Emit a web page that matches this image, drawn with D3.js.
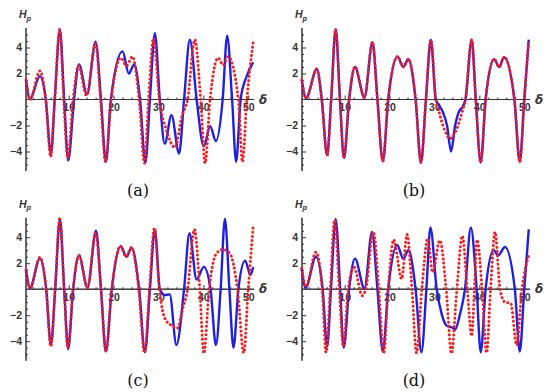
<!DOCTYPE html>
<html>
<head>
<meta charset="utf-8">
<script src="https://cdn.jsdelivr.net/npm/d3@7"></script>
<style>
  html, body { margin: 0; padding: 0; background: #fff; }
  svg { display: block; }
</style>
</head>
<body>
<svg id="chart" width="550" height="392"></svg>
<script>
// ---------- data ----------
const xMajorTicks = [10, 20, 30, 40, 50];
const xMinorTicks = [2, 4, 6, 8, 12, 14, 16, 18, 22, 24, 26, 28, 32, 34, 36, 38, 42, 44, 46, 48];
const yMajorTicks = [-4, -2, 2, 4];
const yMinorTicks = [-5, -4.5, -3.5, -3, -2.5, -1.5, -1, -0.5, 0.5, 1, 1.5, 2.5, 3, 3.5, 4.5, 5];
const panelLabels = ["(a)", "(b)", "(c)", "(d)"];

const blueA = [[0.5,1.5],[1.4,0.05],[3.6,1.8],[4.9,0],[6.05,-4.2],[6.9,0],[8.05,5.35],[9.0,0],[9.9,-4.7],[11.2,0],[12.3,2.7],[14.1,0.4],[16.0,4.45],[17.2,0],[18.3,-4.8],[19.4,0],[22.0,3.7],[23.4,2.0],[24.6,2.7],[25.9,0],[27.1,-4.85],[28.1,0],[29.2,5.1],[30.3,0],[31.4,-3.4],[32.9,-1.2],[34.6,-4.15],[35.7,0],[37.0,4.6],[38.5,0],[40.1,-3.6],[41.5,-2.05],[42.8,-3.2],[44.3,0],[45.3,4.9],[46.4,0],[47.3,-4.8],[48.3,0],[49.6,1.75],[51.1,2.85]];
const redA = [[0.5,1.5],[1.4,0.0],[3.6,2.2],[4.9,0],[6.0,-4.4],[6.9,0],[8.0,5.4],[8.9,0],[9.8,-4.5],[11.0,0],[12.2,2.6],[14.0,0.3],[16.0,4.3],[17.1,0],[18.2,-4.8],[19.5,0],[21.6,3.2],[22.9,2.6],[24.2,3.3],[25.7,0],[26.9,-4.9],[27.8,0],[28.9,4.7],[30.2,0],[31.8,-2.4],[33.7,-3.7],[35.2,-1.3],[36.5,0],[38.1,4.6],[39.4,0],[40.4,-4.9],[41.5,0],[43.3,3.2],[44.4,2.65],[45.5,3.3],[47.8,0],[48.7,-4.8],[49.7,0],[51.1,4.4]];

const blueB = [[0.45,1.5],[1.4,0.1],[3.8,2.35],[4.9,0],[6.1,-4.3],[7.0,0],[8.0,5.4],[8.95,0],[9.85,-4.5],[11.0,0],[12.3,2.5],[14.4,0.15],[16.2,4.4],[17.3,0],[18.5,-4.75],[19.7,0],[21.8,3.3],[23.05,2.5],[24.2,3.1],[25.8,0],[27.0,-4.85],[28.1,0],[29.2,4.6],[30.3,0],[30.9,-0.4],[31.8,-0.9],[32.8,-2.0],[33.7,-4.0],[34.6,-2.0],[35.5,-0.9],[36.3,-0.55],[36.9,0],[38.3,4.6],[39.2,0],[40.3,-4.85],[41.4,0],[43.3,3.1],[44.4,2.5],[45.5,3.25],[47.8,0],[49.0,-4.8],[50.0,0],[51.0,4.6]];
const redB = [[0.45,1.5],[1.4,0.1],[3.8,2.35],[4.9,0],[6.1,-4.3],[7.0,0],[8.0,5.4],[8.95,0],[9.85,-4.5],[11.0,0],[12.3,2.5],[14.4,0.15],[16.2,4.4],[17.3,0],[18.5,-4.75],[19.7,0],[21.8,3.3],[23.05,2.5],[24.2,3.1],[25.8,0],[27.0,-4.85],[28.1,0],[29.2,4.6],[30.3,0],[30.9,-0.8],[32.2,-2.3],[33.5,-3.0],[34.9,-2.3],[36.3,-0.8],[36.9,0],[38.3,4.6],[39.2,0],[40.3,-4.85],[41.4,0],[43.3,3.1],[44.4,2.5],[45.5,3.25],[47.8,0],[49.0,-4.8],[50.0,0],[51.0,4.6]];

const blueC = [[0.5,1.5],[1.4,0.1],[3.6,2.35],[5.0,0],[6.06,-4.3],[7.0,0],[8.06,5.4],[9.0,0],[9.9,-4.6],[11.0,0],[12.3,2.6],[14.2,0.1],[16.1,4.5],[17.2,0],[18.3,-4.8],[19.6,0],[21.6,3.3],[22.9,2.5],[24.0,3.2],[25.7,0],[27.0,-4.85],[28.1,0],[29.2,4.6],[30.3,0],[31.4,-0.45],[32.5,-0.4],[34.0,-4.3],[35.7,0],[36.9,4.3],[38.5,0.75],[40.1,1.72],[41.6,0],[42.8,-4.3],[43.85,0],[44.8,5.4],[45.8,0],[46.7,-4.5],[47.8,0],[49.3,2.2],[50.5,1.1],[51.1,1.7]];
const redC = [[0.5,1.5],[1.4,0.1],[3.6,2.45],[5.0,0],[6.0,-4.4],[7.0,0],[8.0,5.4],[9.0,0],[9.8,-4.5],[11.0,0],[12.3,2.6],[14.2,0.1],[16.0,4.3],[17.2,0],[18.3,-4.8],[19.6,0],[21.5,3.3],[22.8,2.5],[24.0,3.2],[25.6,0],[26.9,-4.9],[28.0,0],[29.1,4.7],[30.2,0],[31.5,-2.3],[33.0,-2.8],[34.2,-3.0],[35.4,-1.5],[36.5,0],[38.0,4.6],[39.2,0],[40.1,-4.95],[41.3,0],[42.9,2.75],[44.4,3.05],[45.9,2.75],[47.6,0],[49.0,-4.9],[50.0,0],[51.1,4.85]];

const blueD = [[0.42,1.6],[1.3,0.1],[3.6,2.5],[5.1,0],[6.1,-4.4],[6.95,0],[8.0,5.4],[9.0,0],[9.8,-4.5],[11.0,0],[12.3,2.35],[14.4,0.05],[16.1,4.4],[17.3,0],[18.5,-4.8],[19.7,0],[21.7,3.4],[23.05,2.35],[24.2,3.0],[25.8,0],[27.1,-4.85],[28.2,0],[29.1,4.75],[30.5,0],[31.6,-1.9],[32.7,-2.8],[33.9,-2.95],[34.6,-3.1],[35.7,-1.9],[36.8,0],[38.1,4.75],[39.4,0],[40.3,-4.85],[41.4,0],[43.2,3.0],[44.2,2.6],[45.7,3.25],[47.9,0],[49.0,-4.8],[50.0,0],[51.0,4.6]];
const redD = [[0.42,1.6],[1.4,0.2],[3.6,2.85],[5.0,0],[5.85,-4.85],[6.8,0],[7.75,5.3],[8.8,0],[9.7,-4.4],[10.8,0],[12.1,1.7],[13.9,-0.5],[14.7,0],[16.4,4.4],[17.6,0],[18.7,-4.95],[19.7,0],[20.9,3.8],[22.7,0.8],[23.9,4.2],[25.0,0],[26.0,-4.9],[27.2,0],[28.5,3.9],[29.6,1.3],[31.2,3.75],[32.6,0],[33.8,-4.95],[35.0,0],[36.2,4.1],[37.3,0],[38.3,-3.6],[38.9,0],[39.5,3.8],[40.6,0],[41.6,-4.9],[42.5,0],[43.5,4.4],[44.6,0],[45.7,-1.0],[47.0,-1.1],[48.3,-4.3],[49.5,0],[51.0,2.6]];

const panels = [
  { blue: blueA, red: redA, dx: 0,   dy: 0 },
  { blue: blueB, red: redB, dx: 276, dy: 0 },
  { blue: blueC, red: redC, dx: 0,   dy: 189.7 },
  { blue: blueD, red: redD, dx: 276, dy: 189.7 }
];

// ---------- drawing ----------
const svg = d3.select("#chart");
const x = d3.scaleLinear().domain([0.5, 51.3]).range([26, 254.1]);
const y = d3.scaleLinear().domain([-5.5, 5.5]).range([171, 28]);

const line = d3.line()
  .x(d => x(d[0]))
  .y(d => y(d[1]))
  .curve(d3.curveMonotoneX);

panels.forEach((p, i) => {
  const g = svg.append("g").attr("transform", `translate(${p.dx},${p.dy})`);

  // x axis (through y = 0)
  const xAxisG = g.append("g").attr("transform", `translate(0,${y(0)})`);
  xAxisG.call(d3.axisBottom(x).tickValues(xMinorTicks).tickSize(-2).tickFormat(""));
  xAxisG.append("g").call(
    d3.axisBottom(x).tickValues(xMajorTicks).tickSizeInner(-4).tickSizeOuter(0).tickPadding(4)
  );
  xAxisG.selectAll(".domain").attr("d", `M${x(0.5)},0H${x(51.3)}`);

  // y axis (at left edge)
  const yAxisG = g.append("g").attr("transform", `translate(${x(0.5)},0)`);
  yAxisG.call(d3.axisLeft(y).tickValues(yMinorTicks).tickSize(-2).tickFormat(""));
  yAxisG.append("g").call(
    d3.axisLeft(y).tickValues(yMajorTicks).tickSizeInner(-4).tickSizeOuter(0).tickPadding(4)
      .tickFormat(d => d < 0 ? "\u2212" + Math.abs(d) : d)
  );
  yAxisG.selectAll(".domain").attr("d", `M0,${y(5.5)}V${y(-5.5)}`);

  g.selectAll(".domain, .tick line").attr("stroke", "#333").attr("stroke-width", 1);
  g.selectAll(".tick text")
    .attr("font-family", "Liberation Sans, Arial, sans-serif")
    .attr("font-size", 10.5)
    .attr("font-weight", "bold")
    .attr("fill", "#333");

  // curves
  g.append("path").datum(p.blue)
    .attr("d", line)
    .attr("fill", "none")
    .attr("stroke", "#1f1fe0")
    .attr("stroke-width", 2.4)
    .attr("stroke-linejoin", "round");
  g.append("path").datum(p.red)
    .attr("d", line)
    .attr("fill", "none")
    .attr("stroke", "#ff1a1a")
    .attr("stroke-width", 3)
    .attr("stroke-linecap", "round")
    .attr("stroke-dasharray", "0.01 4.2");

  // axis labels
  const hp = g.append("text")
    .attr("x", 19).attr("y", 18)
    .attr("font-family", "Liberation Sans, Arial, sans-serif")
    .attr("font-size", 10.5)
    .attr("font-style", "italic")
    .attr("font-weight", "bold")
    .attr("fill", "#333");
  hp.append("tspan").text("H");
  hp.append("tspan").attr("font-size", 7.5).attr("dy", 2.5).text("p");

  g.append("text")
    .attr("x", 259).attr("y", y(0) + 4)
    .attr("font-family", "DejaVu Sans, sans-serif")
    .attr("font-size", 12)
    .attr("font-style", "italic")
    .attr("font-weight", "bold")
    .attr("fill", "#333")
    .text("δ");

  g.append("text")
    .attr("x", 138).attr("y", 196)
    .attr("text-anchor", "middle")
    .attr("font-family", "DejaVu Serif, Liberation Serif, serif")
    .attr("font-size", 16)
    .attr("fill", "#111")
    .text(panelLabels[i]);
});
</script>
</body>
</html>
